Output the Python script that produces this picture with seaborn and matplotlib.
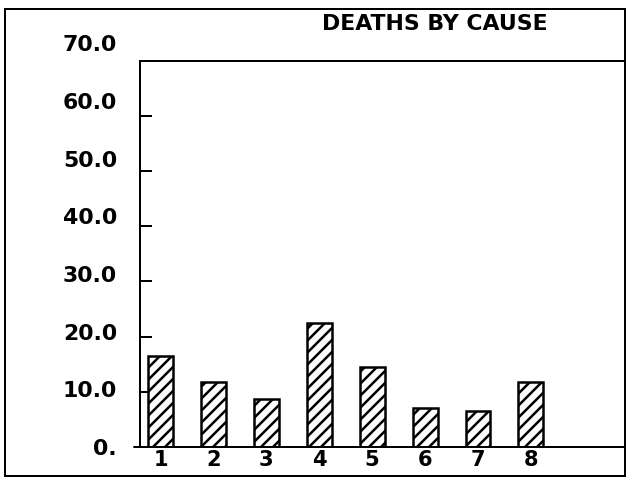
import matplotlib
matplotlib.use("Agg")
import matplotlib.pyplot as plt
import matplotlib.transforms as mtransforms
from matplotlib.patches import Rectangle
import pandas as pd
import seaborn as sns

# ---- data ----
causes = ["1", "2", "3", "4", "5", "6", "7", "8"]
deaths = [16.4, 11.8, 8.7, 22.5, 14.5, 7.1, 6.5, 11.7]
ytick_values = [0, 10, 20, 30, 40, 50, 60, 70]
ytick_labels = ["0.", "10.0", "20.0", "30.0", "40.0", "50.0", "60.0", "70.0"]
title = "DEATHS BY CAUSE"

df = pd.DataFrame({"cause": causes, "deaths": deaths})

sns.set_theme(style="white")
plt.rcParams["font.family"] = ["DejaVu Sans"]
plt.rcParams["hatch.linewidth"] = 2.5
plt.rcParams["hatch.color"] = "black"

DPI = 72
fig = plt.figure(figsize=(629 / DPI, 481 / DPI), dpi=DPI)
fig.patch.set_facecolor("white")
ax = fig.add_axes([140 / 629, 1 - 447 / 481, (625 - 140) / 629, (447 - 60.7) / 481])

sns.barplot(data=df, x="cause", y="deaths", color="white", edgecolor="black",
            linewidth=2.5, width=0.47, hatch="//", saturation=1, ax=ax)

ax.set_xlim(-0.39, 8.78)
ax.set_ylim(0, 70)
ax.set_xlabel("")
ax.set_ylabel("")

ax.set_yticks(ytick_values)
ax.set_yticklabels(ytick_labels)
ax.tick_params(axis="y", direction="in", length=12, width=2, pad=23,
               labelsize=22, color="black", left=True)
ax.tick_params(axis="x", length=0, pad=3, labelsize=21)
for lab in ax.get_yticklabels() + ax.get_xticklabels():
    lab.set_fontweight("bold")
    lab.set_color("black")

# y labels sit slightly higher than their ticks in the original
for lab, v in zip(ax.get_yticklabels(), ytick_values):
    off = v * 0.25 / DPI
    lab.set_transform(lab.get_transform() +
                      mtransforms.ScaledTranslation(0, off, fig.dpi_scale_trans))

for side in ["left", "top", "bottom"]:
    ax.spines[side].set_visible(True)
    ax.spines[side].set_color("black")
    ax.spines[side].set_linewidth(2)
ax.spines["right"].set_visible(False)
ax.plot([-0.012, 0], [0, 0], transform=ax.transAxes, color="black",
        lw=2, clip_on=False)

# outer frame
fig.patches.append(Rectangle((5 / 629, 1 - 476 / 481), (625 - 5) / 629,
                             (476 - 9) / 481, transform=fig.transFigure,
                             fill=False, edgecolor="black", linewidth=2))

fig.text(434.5 / 629, 1 - 24 / 481, title, ha="center", va="center",
         fontsize=22, fontweight="bold", color="black")

fig.savefig("out.png", dpi=DPI)
